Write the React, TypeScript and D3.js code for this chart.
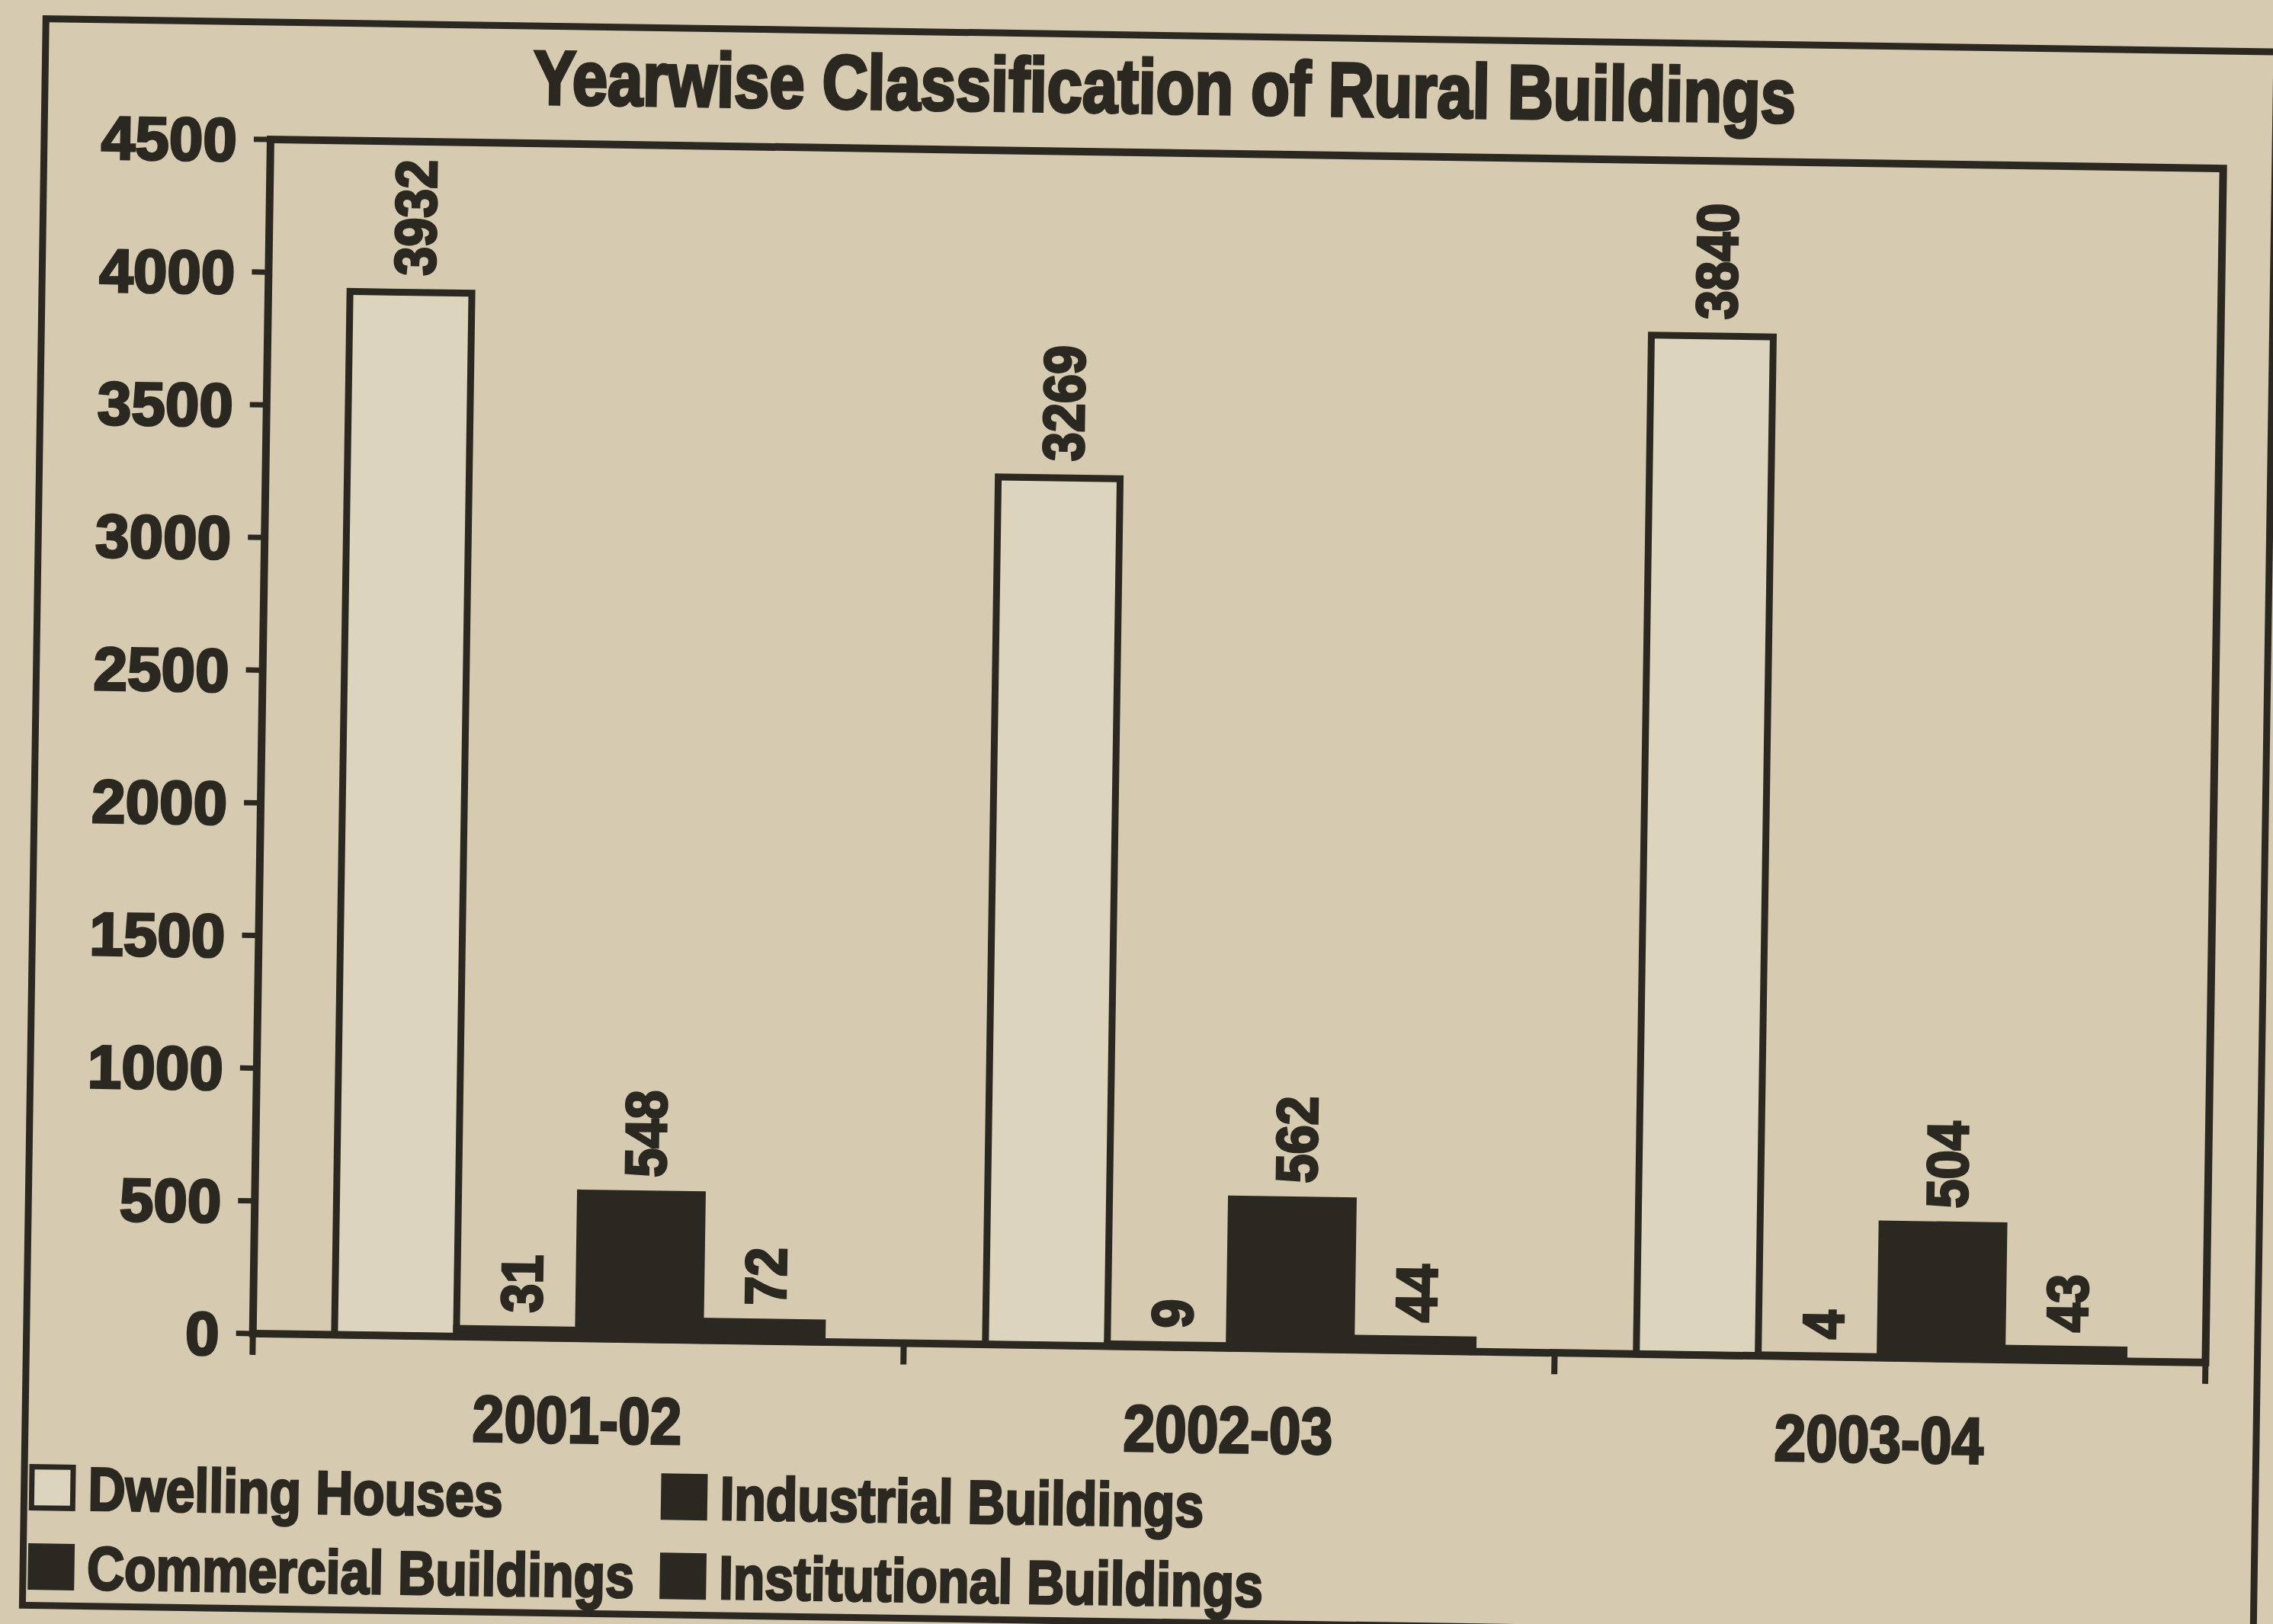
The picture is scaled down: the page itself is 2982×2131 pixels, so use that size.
import { useEffect, useRef } from 'react';
import * as d3 from 'd3';

const years = ['2001-02', '2002-03', '2003-04'];
const seriesNames = ['Dwelling Houses', 'Industrial Buildings', 'Commercial Buildings', 'Institutional Buildings'];
const dwelling = [3932, 3269, 3840];
const industrial = [31, 9, 4];
const commercial = [548, 562, 504];
const institutional = [72, 44, 43];
const yTicks = [0, 500, 1000, 1500, 2000, 2500, 3000, 3500, 4000, 4500];
const title = 'Yearwise Classification of Rural Buildings';

const PAPER = '#d6cbb1';
const INK = '#2a2820';

export default function App() {
  const svgRef = useRef<SVGSVGElement>(null);

  useEffect(() => {
    const W = 2982;
    const H = 2131;
    const margin = { top: 200, right: 78, bottom: 364, left: 342 };
    const series = [dwelling, industrial, commercial, institutional];
    const fills = ['#ddd4be', INK, INK, INK];

    const root = d3.select(svgRef.current);
    root.selectAll('*').remove();
    root.attr('width', W).attr('height', H).style('font-family', '"Liberation Sans", Arial, sans-serif');

    root.append('rect').attr('width', W).attr('height', H).attr('fill', PAPER);

    // the scan is tilted a little clockwise
    const g = root.append('g').attr('transform', `rotate(0.85, ${W / 2}, ${H / 2})`);

    // heavy newspaper type: bold plus a thin outline
    const ink = (t: d3.Selection<SVGTextElement, unknown, null, undefined>, w = 3) =>
      t.style('font-weight', 'bold').attr('fill', INK).attr('stroke', INK).attr('stroke-width', w);

    // outer frame
    g.append('rect')
      .attr('x', 45).attr('y', 46)
      .attr('width', 2927).attr('height', 2082)
      .attr('fill', 'none').attr('stroke', INK).attr('stroke-width', 9);

    const x0 = d3.scaleBand().domain(years).range([margin.left, W - margin.right]).padding(0);
    const x1 = d3.scaleBand().domain(seriesNames).range([0, x0.bandwidth()]).paddingInner(0).paddingOuter(0.67);
    const y = d3.scaleLinear().domain([0, 4500]).range([H - margin.bottom, margin.top]);

    // bars
    years.forEach((yr, i) => {
      const grp = g.append('g').attr('transform', `translate(${x0(yr)},0)`);
      series.forEach((vals, s) => {
        grp.append('rect')
          .attr('x', x1(seriesNames[s])!)
          .attr('y', y(vals[i]))
          .attr('width', x1.bandwidth())
          .attr('height', y(0) - y(vals[i]))
          .attr('fill', fills[s])
          .attr('stroke', INK)
          .attr('stroke-width', 9);

        const lbl = grp.append('text')
          .attr('class', 'sq')
          .attr('data-k', 0.9)
          .attr('transform', `translate(${x1(seriesNames[s])! + x1.bandwidth() / 2 + 4},${y(vals[i]) - 22}) rotate(-90)`)
          .attr('dy', '0.36em')
          .attr('text-anchor', 'start')
          .style('font-size', '76px')
          .text(vals[i]);
        ink(lbl);
      });
    });

    // plot frame
    g.append('rect')
      .attr('x', margin.left).attr('y', margin.top)
      .attr('width', W - margin.left - margin.right)
      .attr('height', H - margin.top - margin.bottom)
      .attr('fill', 'none').attr('stroke', INK).attr('stroke-width', 10);

    // y axis ticks and labels
    yTicks.forEach((t) => {
      g.append('line')
        .attr('x1', margin.left - 22).attr('x2', margin.left)
        .attr('y1', y(t)).attr('y2', y(t))
        .attr('stroke', INK).attr('stroke-width', 7);
      const tl = g.append('text')
        .attr('x', margin.left - 44)
        .attr('y', y(t))
        .attr('dy', '0.36em')
        .attr('text-anchor', 'end')
        .style('font-size', '80px')
        .text(t);
      ink(tl);
    });

    // x axis ticks at category edges
    const edges = years.map((yr) => x0(yr)!).concat([W - margin.right]);
    edges.forEach((ex) => {
      g.append('line')
        .attr('x1', ex).attr('x2', ex)
        .attr('y1', y(0)).attr('y2', y(0) + 28)
        .attr('stroke', INK).attr('stroke-width', 8);
    });

    years.forEach((yr) => {
      const xl = g.append('text')
        .attr('class', 'sq')
        .attr('data-k', 0.87)
        .attr('x', x0(yr)! + x0.bandwidth() / 2)
        .attr('y', y(0) + 137)
        .attr('text-anchor', 'middle')
        .style('font-size', '86px')
        .text(yr);
      ink(xl);
    });

    // title
    const tt = g.append('text')
      .attr('class', 'sq')
      .attr('data-k', 0.83)
      .attr('x', 1514)
      .attr('y', 148)
      .attr('text-anchor', 'middle')
      .style('font-size', '100px')
      .text(title);
    ink(tt, 4);

    // legend, two rows of two
    const legX = [55, 884];
    const legY = [1973, 2077];
    seriesNames.forEach((name, s) => {
      const lx = legX[s % 2];
      const ly = legY[Math.floor(s / 2)];
      g.append('rect')
        .attr('x', lx).attr('y', ly - 27)
        .attr('width', 54).attr('height', 54)
        .attr('fill', fills[s])
        .attr('stroke', INK).attr('stroke-width', 7);
      const lt = g.append('text')
        .attr('class', 'sq')
        .attr('data-k', 0.85)
        .attr('x', lx + 74)
        .attr('y', ly)
        .attr('dy', '0.36em')
        .style('font-size', '80px')
        .text(name);
      ink(lt);
    });

    // squeeze the condensed newspaper type
    root.selectAll<SVGTextElement, unknown>('text.sq').each(function () {
      const k = +(this.getAttribute('data-k') || 1);
      const len = this.getComputedTextLength();
      d3.select(this).attr('textLength', len * k).attr('lengthAdjust', 'spacingAndGlyphs');
    });
  }, []);

  return <svg ref={svgRef} style={{ position: 'absolute', left: 0, top: 0 }}></svg>;
}
